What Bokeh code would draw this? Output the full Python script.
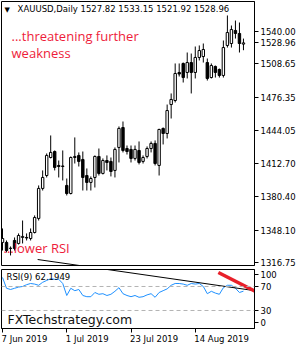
from bokeh.plotting import figure
from bokeh.layouts import column
from bokeh.models import ColumnDataSource, FixedTicker, Label, Span, Range1d, NumeralTickFormatter, LinearAxis
from bokeh.embed import file_html
from bokeh.resources import INLINE

# ---- data (XAUUSD daily) ----
opens = [1336.1, 1336.1, 1330.5, 1338.0, 1335.1, 1340.9, 1340.9, 1339.9, 1345.7, 1359.3,
         1388.3, 1400.8, 1418.2, 1424.0, 1410.5, 1409.5, 1391.2, 1383.4, 1418.2, 1420.2,
         1416.3, 1400.8, 1394.1, 1398.9, 1419.2, 1402.8, 1415.3, 1414.4, 1405.7, 1427.9,
         1447.2, 1426.9, 1426.0, 1417.3, 1425.0, 1414.4, 1419.2, 1426.9, 1431.8, 1410.5,
         1446.3, 1441.4, 1469.4, 1473.3, 1500.4, 1509.1, 1500.4, 1510.0, 1500.4, 1514.9,
         1515.8, 1510.0, 1495.5, 1506.2, 1503.3, 1497.5, 1526.5, 1528.4, 1541.0, 1538.1,
         1527.82]
highs = [1349.6, 1338.0, 1332.2, 1340.9, 1344.8, 1357.3, 1344.8, 1349.6, 1362.2, 1391.2,
         1405.7, 1422.1, 1439.5, 1425.0, 1415.3, 1425.0, 1397.9, 1419.2, 1437.6, 1423.1,
         1424.0, 1407.6, 1399.9, 1420.2, 1426.9, 1417.3, 1420.2, 1418.2, 1427.9, 1448.2,
         1453.0, 1429.8, 1429.8, 1429.8, 1433.7, 1420.2, 1428.9, 1433.7, 1434.7, 1446.0,
         1447.2, 1469.4, 1480.1, 1509.1, 1509.1, 1510.0, 1519.7, 1518.7, 1525.5, 1526.5,
         1528.4, 1513.9, 1509.1, 1507.1, 1504.2, 1531.3, 1555.5, 1545.8, 1550.6, 1548.7,
         1533.15]
lows = [1328.3, 1326.4, 1323.5, 1328.3, 1334.1, 1335.1, 1338.0, 1338.0, 1344.8, 1357.3,
        1386.3, 1398.9, 1417.3, 1405.7, 1398.9, 1396.0, 1381.5, 1382.5, 1412.4, 1409.5,
        1386.3, 1386.3, 1386.3, 1389.2, 1400.8, 1401.8, 1405.7, 1399.9, 1398.9, 1413.4,
        1423.1, 1421.1, 1413.4, 1415.3, 1411.5, 1412.4, 1417.3, 1423.1, 1410.5, 1400.8,
        1430.8, 1436.6, 1455.9, 1471.4, 1496.5, 1490.7, 1494.6, 1480.1, 1494.6, 1512.0,
        1510.0, 1492.6, 1494.6, 1495.5, 1495.5, 1495.5, 1524.5, 1524.5, 1533.2, 1519.7,
        1521.92]
closes = [1339.9, 1328.3, 1330.3, 1330.3, 1342.8, 1341.9, 1340.4, 1345.7, 1360.2, 1388.3,
          1398.9, 1420.2, 1423.1, 1408.6, 1409.5, 1410.0, 1383.4, 1418.2, 1419.2, 1414.4,
          1398.9, 1394.1, 1397.9, 1419.2, 1402.8, 1415.3, 1413.4, 1404.7, 1426.0, 1446.3,
          1425.0, 1424.0, 1417.3, 1426.0, 1413.4, 1418.2, 1426.9, 1431.8, 1412.4, 1445.3,
          1441.4, 1463.6, 1474.3, 1499.4, 1498.9, 1495.5, 1510.0, 1500.4, 1514.9, 1521.6,
          1522.6, 1494.6, 1507.1, 1500.4, 1497.5, 1524.5, 1539.0, 1541.9, 1538.1, 1528.4,
          1528.96]
rsi = [85, 67, 65, 67, 69, 70, 73, 75, 74, 72,
       77, 80, 83, 82, 82, 75, 55, 67, 63, 65,
       55, 53, 53, 60, 57, 58, 55, 57, 62, 68,
       58, 55, 53, 55, 52, 53, 56, 58, 52, 60,
       63, 66, 72, 75, 75, 74, 72, 75, 74, 75,
       70, 58, 62, 59, 57, 68, 72, 72, 67, 60,
       62.1949]

date_ticks = [0, 16, 32, 48]
date_labels = ["7 Jun 2019", "1 Jul 2019", "23 Jul 2019", "14 Aug 2019"]
price_ticks = [1540.00, 1508.65, 1476.35, 1444.05, 1412.70, 1380.40, 1348.10, 1316.75]
rsi_levels = [70, 30]
rsi_tick_pos = [90, 70, 30, 10]
rsi_tick_text = ["100", "70", "30", "0"]

# hand-drawn annotation lines (bar index, value)
trend_idx = [8.75, 62.5]
trend_price = [1319.6, 1289.6]
trend_rsi = [115.0, 63.3]
red_idx = [53.75, 63.0]
red_rsi = [93.3, 61.7]

# layout-only: shift (in bars) that puts each date label's left edge at its tick
label_shift = [5.46, 5.09, 5.76, 6.55]

FONT = "DejaVu Sans"
RED = "#ee1c3a"

n = len(closes)
idx = list(range(n))
fills = ["white" if c >= o else "black" for o, c in zip(opens, closes)]
src = ColumnDataSource(dict(x=idx, o=opens, h=highs, l=lows, c=closes, fill=fills))

xr = Range1d(-0.25, 62.75)

p = figure(width=300, height=268, x_range=xr, y_range=Range1d(1313.8, 1569.0),
           x_axis_location=None, y_axis_location="right",
           output_backend="svg", toolbar_location=None,
           min_border_left=1, min_border_top=1, min_border_bottom=3, min_border_right=46)
p.grid.visible = False
p.outline_line_color = "black"
p.background_fill_color = "white"
ya = p.yaxis[0]
# the last close is shown on the price scale too, as in the reference
ya.ticker = FixedTicker(ticks=sorted(price_ticks + [closes[-1]]))
ya.formatter = NumeralTickFormatter(format="0.00")
ya.major_label_text_font = FONT
ya.major_label_text_font_size = "8.5px"
ya.major_label_text_color = "black"
ya.major_tick_out = 4
ya.major_tick_in = 0
ya.minor_tick_line_color = None
ya.major_label_standoff = 2
ya.axis_line_color = "black"

p.segment(x0="x", y0="l", x1="x", y1="h", source=src, line_color="black", line_width=1)
p.vbar(x="x", width=0.6, top="o", bottom="c", source=src, fill_color="fill", line_color="black", line_width=1)

p.line(trend_idx, trend_price, line_color="black", line_width=1)

p.add_layout(Label(x=0.5, y=1557.4, text="\u25bc", text_font=FONT, text_font_size="7px",
                   text_color="black"))
p.add_layout(Label(x=3.75, y=1557.4,
                   text=f"XAUUSD,Daily  {opens[-1]:.2f} {highs[-1]:.2f} {lows[-1]:.2f} {closes[-1]:.2f}",
                   text_font=FONT, text_font_size="8.5px", text_color="black"))
p.add_layout(Label(x=2.25, y=1527.4, text="...threatening further", text_font="Open Sans",
                   text_font_size="13px", text_color=RED))
p.add_layout(Label(x=2.25, y=1511.0, text="weakness", text_font="Open Sans",
                   text_font_size="13px", text_color=RED))
p.add_layout(Label(x=0.25, y=1321.6, text="...lower RSI", text_font="Open Sans",
                   text_font_size="13px", text_color=RED))

# ---- RSI panel ----
r = figure(width=300, height=82, x_range=xr, y_range=Range1d(0, 98.3),
           x_axis_location="below", y_axis_location="right",
           output_backend="svg", toolbar_location=None,
           min_border_left=1, min_border_top=1, min_border_bottom=22, min_border_right=46)
r.grid.visible = False
r.outline_line_color = "black"
ra = r.yaxis[0]
ra.ticker = FixedTicker(ticks=rsi_tick_pos)
ra.major_label_overrides = {float(k): t for k, t in zip(rsi_tick_pos, rsi_tick_text)}
ra.major_label_text_font = FONT
ra.major_label_text_font_size = "8.5px"
ra.major_label_text_color = "black"
ra.major_tick_out = 4
ra.major_tick_in = 0
ra.minor_tick_line_color = None
ra.major_label_standoff = 2
ra.axis_line_color = "black"

# tick marks at the real dates (no labels drawn on this axis)
xa = r.xaxis[0]
xa.ticker = FixedTicker(ticks=date_ticks)
xa.major_label_text_color = None
xa.major_label_text_font_size = "2px"
xa.major_label_standoff = 0
xa.major_tick_out = 4
xa.major_tick_in = 0
xa.minor_tick_line_color = None
xa.axis_line_color = "black"

# date labels, left edge at each tick
label_pos = [t + s for t, s in zip(date_ticks, label_shift)]
xl = LinearAxis(ticker=FixedTicker(ticks=label_pos),
                major_label_overrides={float(k): t for k, t in zip(label_pos, date_labels)},
                major_label_text_font=FONT, major_label_text_font_size="8.5px",
                major_label_text_color="black", major_label_standoff=1,
                major_tick_line_color=None, major_tick_out=0, major_tick_in=0,
                minor_tick_line_color=None, axis_line_color=None)
r.add_layout(xl, "below")

for lv in rsi_levels:
    r.add_layout(Span(location=lv, dimension="width", line_color="#b4b4b4",
                      line_dash="4 3", line_width=1))

r.line(idx, rsi, line_color="#1e90ff", line_width=1)
r.line(trend_idx, trend_rsi, line_color="black", line_width=1)
r.line(red_idx, red_rsi, line_color="#e8202a", line_width=3.5)

r.add_layout(Label(x=1.0, y=78, text=f"RSI(9) {rsi[-1]:.4f}", text_font=FONT,
                   text_font_size="8.5px", text_color="black"))
r.add_layout(Label(x=1.25, y=3.3, text="FXTechstrategy.com", text_font=FONT,
                   text_font_size="12.5px", text_color="#111111"))

layout = column(p, r, spacing=0)
open("out.html", "w").write(file_html(layout, INLINE))
